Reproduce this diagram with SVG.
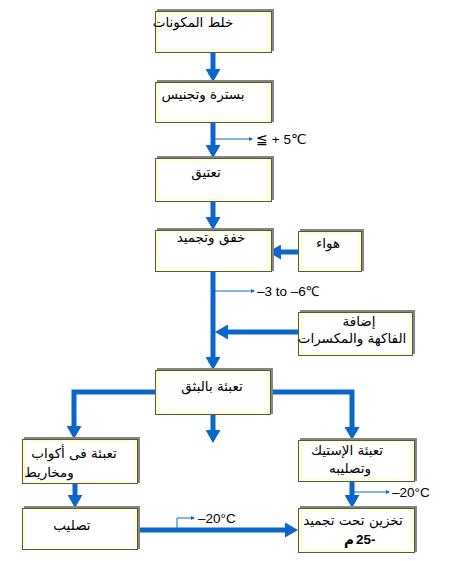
<svg xmlns="http://www.w3.org/2000/svg" width="472" height="561" viewBox="0 0 472 561">
<style>
.sh{fill:#858585}
.bx{fill:#ffffcc;stroke:#555;stroke-width:1}
.in{fill:#ffffff}
.ar{font-family:"DejaVu Sans","Noto Sans",sans-serif;font-size:13.5px;fill:#000;text-anchor:middle}
.tl{font-family:"Liberation Sans",Arial,sans-serif;font-size:13.5px;fill:#000}
.main{stroke:#0a66c8;stroke-width:5;fill:none}
.thin{stroke:#0a66c8;stroke-width:1;fill:none}
</style>
<defs>
<marker id="ah" markerUnits="userSpaceOnUse" markerWidth="15" markerHeight="15" refX="2" refY="7.5" orient="auto">
<path d="M0,0 L13,7.5 L0,15 z" fill="#0a66c8"/>
</marker>
<marker id="dt" markerUnits="userSpaceOnUse" markerWidth="5" markerHeight="5" refX="3" refY="2.5" orient="auto">
<path d="M0,0.5 L4,2.5 L0,4.5 z" fill="#0a66c8"/>
</marker>
</defs>

<g id="connectors">
<line class="main" x1="213" y1="53" x2="213" y2="71" marker-end="url(#ah)"/>
<line class="main" x1="213" y1="123" x2="213" y2="147" marker-end="url(#ah)"/>
<line class="main" x1="213" y1="202" x2="213" y2="219" marker-end="url(#ah)"/>
<line class="main" x1="213" y1="272" x2="213" y2="359" marker-end="url(#ah)"/>
<line class="main" x1="298" y1="252" x2="279" y2="252" marker-end="url(#ah)"/>
<line class="main" x1="298" y1="332" x2="226" y2="332" marker-end="url(#ah)"/>
<line class="main" x1="213" y1="415" x2="213" y2="432" marker-end="url(#ah)"/>
<polyline class="main" points="155,392 74,392 74,428" marker-end="url(#ah)"/>
<polyline class="main" points="271,392 352,392 352,429" marker-end="url(#ah)"/>
<line class="main" x1="75" y1="484" x2="75" y2="497" marker-end="url(#ah)"/>
<line class="main" x1="352" y1="482" x2="352" y2="497" marker-end="url(#ah)"/>
<line class="main" x1="138" y1="530" x2="287" y2="530" marker-end="url(#ah)"/>
<line class="thin" x1="215" y1="139" x2="252" y2="139" marker-end="url(#dt)"/>
<line class="thin" x1="215" y1="291" x2="254" y2="291" marker-end="url(#dt)"/>
<line class="thin" x1="354" y1="492" x2="389" y2="492" marker-end="url(#dt)"/>
<polyline class="thin" points="177,528 177,518 194,518" marker-end="url(#dt)"/>
</g>

<g id="t1"><text class="tl" x="256" y="144">≦ + 5℃</text></g>
<g id="t2"><text class="tl" x="257" y="296">–3 to –6℃</text></g>
<g id="t3"><text class="tl" x="392" y="497">–20°C</text></g>
<g id="t4"><text class="tl" x="198" y="523">–20°C</text></g>

<g id="n1">
<rect class="sh" x="157" y="9" width="117" height="42"/>
<rect class="bx" x="155.5" y="11.5" width="116" height="41"/>
<rect class="in" x="159" y="14" width="109" height="36"/>
<text class="ar" x="193" y="27">خلط المكونات</text>
</g>
<g id="n2">
<rect class="sh" x="157" y="80" width="117" height="42"/>
<rect class="bx" x="155.5" y="82.5" width="116" height="40"/>
<rect class="in" x="159" y="85" width="109" height="35"/>
<text class="ar" x="203" y="99">بسترة وتجنيس</text>
</g>
<g id="n3">
<rect class="sh" x="157" y="156" width="117" height="44"/>
<rect class="bx" x="155.5" y="158.5" width="116" height="43"/>
<rect class="in" x="159" y="161" width="109" height="38"/>
<text class="ar" x="206" y="177">تعتيق</text>
</g>
<g id="n4">
<rect class="sh" x="157" y="228" width="117" height="43"/>
<rect class="bx" x="155.5" y="230.5" width="116" height="41"/>
<rect class="in" x="159" y="233" width="109" height="36"/>
<text class="ar" x="211" y="242">خفق وتجميد</text>
</g>
<g id="n5">
<rect class="sh" x="300" y="229" width="64" height="42"/>
<rect class="bx" x="298.5" y="231.5" width="63" height="40"/>
<rect class="in" x="302" y="234" width="56" height="35"/>
<text class="ar" x="328" y="248">هواء</text>
</g>
<g id="n6">
<rect class="sh" x="300" y="310" width="115" height="44"/>
<rect class="bx" x="298.5" y="312.5" width="114" height="43"/>
<rect class="in" x="302" y="315" width="107" height="38"/>
<text class="ar" x="359" y="326">إضافة</text>
<text class="ar" x="352" y="343">الفاكهة  والمكسرات</text>
</g>
<g id="n7">
<rect class="sh" x="157" y="368" width="116" height="46"/>
<rect class="bx" x="155.5" y="370.5" width="115" height="44"/>
<rect class="in" x="159" y="373" width="108" height="39"/>
<text class="ar" x="212" y="391">تعبئة بالبثق</text>
</g>
<g id="n8">
<rect class="sh" x="24" y="437" width="116" height="46"/>
<rect class="bx" x="22.5" y="439.5" width="115" height="44"/>
<rect class="in" x="26" y="442" width="108" height="39"/>
<text class="ar" x="74" y="458">تعبئة فى أكواب</text>
<text class="ar" x="49" y="477">ومخاريط</text>
</g>
<g id="n9">
<rect class="sh" x="300" y="438" width="117" height="43"/>
<rect class="bx" x="298.5" y="440.5" width="116" height="41"/>
<rect class="in" x="302" y="443" width="109" height="36"/>
<text class="ar" x="347" y="455">تعبئة الإستيك</text>
<text class="ar" x="350" y="473">وتصليبه</text>
</g>
<g id="n10">
<rect class="sh" x="24" y="506" width="116" height="43"/>
<rect class="bx" x="22.5" y="508.5" width="115" height="41"/>
<rect class="in" x="26" y="511" width="108" height="36"/>
<text class="ar" x="72" y="530">تصليب</text>
</g>
<g id="n11">
<rect class="sh" x="300" y="506" width="117" height="46"/>
<rect class="bx" x="298.5" y="508.5" width="116" height="44"/>
<rect class="in" x="302" y="511" width="109" height="39"/>
<text class="ar" x="353" y="525">تخزين تحت تجميد</text>
<text class="ar" x="349" y="544" font-weight="bold">م</text>
<text class="tl" x="356" y="544" font-weight="bold">25</text>
<text class="tl" x="371" y="544" font-weight="bold">-</text>
</g>
</svg>
